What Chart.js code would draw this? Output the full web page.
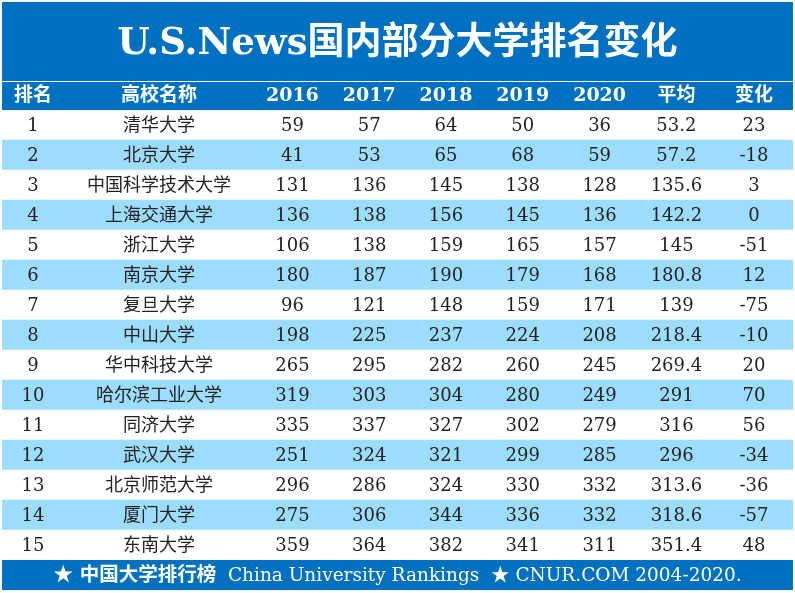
<!DOCTYPE html>
<html>
<head>
<meta charset="utf-8">
<title>U.S.News国内部分大学排名变化</title>
<script src="https://cdn.jsdelivr.net/npm/chart.js@4.4.1/dist/chart.umd.min.js"></script>
<style>
  html, body { margin: 0; padding: 0; background: #fff; }
  #wrap { width: 795px; height: 593px; position: relative; }
</style>
</head>
<body>
<div id="wrap"><canvas id="rankTable"></canvas></div>
<script>
// table data
var headers = ["排名", "高校名称", "2016", "2017", "2018", "2019", "2020", "平均", "变化"];
var ranks = ["1", "2", "3", "4", "5", "6", "7", "8", "9", "10", "11", "12", "13", "14", "15"];
var names = ["清华大学", "北京大学", "中国科学技术大学", "上海交通大学", "浙江大学", "南京大学", "复旦大学",
  "中山大学", "华中科技大学", "哈尔滨工业大学", "同济大学", "武汉大学", "北京师范大学", "厦门大学", "东南大学"];
var y2016 = [59, 41, 131, 136, 106, 180, 96, 198, 265, 319, 335, 251, 296, 275, 359];
var y2017 = [57, 53, 136, 138, 138, 187, 121, 225, 295, 303, 337, 324, 286, 306, 364];
var y2018 = [64, 65, 145, 156, 159, 190, 148, 237, 282, 304, 327, 321, 324, 344, 382];
var y2019 = [50, 68, 138, 145, 165, 179, 159, 224, 260, 280, 302, 299, 330, 336, 341];
var y2020 = [36, 59, 128, 136, 157, 168, 171, 208, 245, 249, 279, 285, 332, 332, 311];
var average = [53.2, 57.2, 135.6, 142.2, 145, 180.8, 139, 218.4, 269.4, 291, 316, 296, 313.6, 318.6, 351.4];
var change = [23, -18, 3, 0, -51, 12, -75, -10, 20, 70, 56, -34, -36, -57, 48];

var titleText = "U.S.News国内部分大学排名变化";
var footerBold = "★ 中国大学排行榜";
var footerRest = "  China University Rankings  ★ CNUR.COM 2004-2020.";

// layout: column widths in x-scale units (1 unit = 1px)
var colWidths = [62, 190, 76.8, 76.8, 76.8, 76.8, 76.8, 76.8, 78.2];
var colCenters = [];
var acc = 0;
colWidths.forEach(function (w) { colCenters.push(acc + w / 2); acc += w; });
var totalWidth = acc;

var columns = [ranks, names, y2016, y2017, y2018, y2019, y2020, average, change];

var BLUE = "#0070C0";
var LIGHT = "#9CDCFD";
var FONT = "'DejaVu Serif', 'Noto Sans CJK SC', serif";

// blue blocks behind the title, the header row and the footer
var backdrop = {
  id: "backdrop",
  beforeDraw: function (chart) {
    var c = chart.ctx;
    var x = chart.scales.x;
    var tb = chart.titleBlock;
    c.save();
    c.fillStyle = BLUE;
    c.fillRect(chart.chartArea.left, tb.top, chart.chartArea.width, tb.height - 1);
    c.fillRect(chart.chartArea.left, x.top, chart.chartArea.width, x.bottom - x.top);
    c.fillRect(chart.chartArea.left, chart.chartArea.bottom, chart.chartArea.width, 30);
    c.restore();
  }
};

// cell texts placed through the scales
var cellText = {
  id: "cellText",
  afterDatasetsDraw: function (chart) {
    var c = chart.ctx;
    var xs = chart.scales.x, ys = chart.scales.y;
    c.save();
    c.textAlign = "center";
    c.textBaseline = "middle";
    c.fillStyle = "#222";
    c.font = "18px " + FONT;
    for (var i = 0; i < ranks.length; i++) {
      var py = ys.getPixelForValue(i) + 1;
      for (var j = 0; j < columns.length; j++) {
        var px = xs.getPixelForValue(colCenters[j]);
        c.fillText(String(columns[j][i]), px, py);
      }
    }
    // footer line
    var fy = chart.chartArea.bottom + 16;
    c.fillStyle = "#fff";
    c.textAlign = "left";
    c.font = "bold 19.5px " + FONT;
    var w1 = c.measureText(footerBold).width;
    c.font = "18.5px " + FONT;
    var w2 = c.measureText(footerRest).width;
    var fx = (chart.chartArea.left + chart.chartArea.right) / 2 - (w1 + w2) / 2;
    c.font = "bold 19.5px " + FONT;
    c.fillText(footerBold, fx, fy);
    c.font = "18.5px " + FONT;
    c.fillText(footerRest, fx + w1, fy);
    c.restore();
  }
};

var ctx = document.getElementById("rankTable").getContext("2d");
var table = new Chart(ctx, {
  type: "bar",
  data: {
    labels: ranks,
    datasets: [{
      label: "rows",
      data: ranks.map(function () { return [0, totalWidth]; }),
      backgroundColor: function (context) {
        return context.dataIndex % 2 === 0 ? "#ffffff" : LIGHT;
      },
      borderWidth: 0,
      barPercentage: 1,
      categoryPercentage: 1
    }]
  },
  options: {
    indexAxis: "y",
    responsive: true,
    maintainAspectRatio: false,
    animation: false,
    layout: { padding: { top: 2, left: 2, right: 2, bottom: 33 } },
    plugins: {
      legend: { display: false },
      tooltip: { enabled: false },
      title: {
        display: true,
        text: titleText,
        color: "#fff",
        font: { family: FONT, size: 37, weight: "bold", lineHeight: 40 / 37 },
        padding: { top: 22, bottom: 18 }
      }
    },
    scales: {
      x: {
        type: "linear",
        position: "top",
        min: 0,
        max: totalWidth,
        afterBuildTicks: function (scale) {
          scale.ticks = colCenters.map(function (v) { return { value: v }; });
        },
        ticks: {
          autoSkip: false,
          maxRotation: 0,
          padding: 3,
          color: "#fff",
          font: { family: FONT, size: 19, weight: "bold", lineHeight: 22 / 19 },
          callback: function (value, index) { return headers[index]; }
        },
        grid: { display: false, drawTicks: false },
        border: { display: false }
      },
      y: {
        type: "category",
        display: false,
        grid: { display: false }
      }
    }
  },
  plugins: [backdrop, cellText]
});
</script>
</body>
</html>
